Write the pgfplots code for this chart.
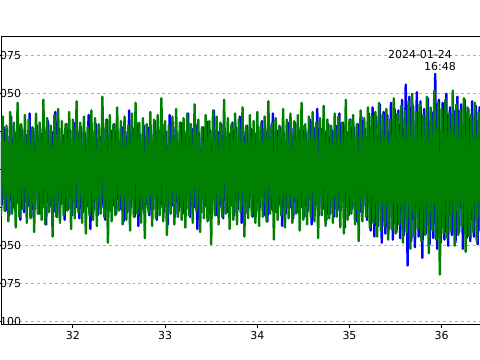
\documentclass[border=0pt]{standalone}
\usepackage{fontspec}
\setmainfont{DejaVu Sans}
\usepackage{pgfplots}
\pgfplotsset{compat=1.18}
\definecolor{mplblue}{RGB}{0,0,255}
\definecolor{mplgreen}{RGB}{0,128,0}
\definecolor{gridgray}{RGB}{176,176,176}
\begin{document}
\begin{tikzpicture}
\useasboundingbox (0,0) rectangle (480bp,360bp);
\clip (0,0) rectangle (480bp,360bp);
\begin{axis}[
  at={(1bp,36bp)}, anchor=south west,
  scale only axis, width=489bp, height=288bp,
  xmin=31.2202, xmax=36.524, ymin=-0.1015, ymax=0.08796,
  axis line style={black, line width=0.8bp},
  xtick={32,33,34,35,36},
  xticklabels={32,33,34,35,36},
  ytick={-0.1,-0.075,-0.05,-0.025,0,0.025,0.05,0.075},
  yticklabels={−0.100,−0.075,−0.050,,,,0.050,0.075},
  xtick pos=bottom, ytick pos=left,
  tick align=outside, major tick length=3.5bp,
  tick style={black, line width=0.8bp},
  ymajorgrids,
  major grid style={gridgray, dashed, line width=0.8bp},
  ticklabel style={font=\fontsize{11}{13}\selectfont},
  /pgf/number format/assume math mode=true,
  yticklabel style={anchor=east, xshift=27bp},
  clip=true,
]
\addplot[mplblue, line width=2.4bp, line join=round] table[header=false, row sep=\\, x expr=\coordindex*0.02+31.21, y index=0] {
0.025\\-0.023\\0.028\\-0.027\\0.022\\-0.030\\0.035\\-0.025\\0.024\\-0.022\\0.030\\-0.033\\0.026\\-0.028\\0.023\\-0.024\\0.037\\-0.031\\0.027\\-0.026\\
0.029\\-0.029\\0.024\\-0.025\\0.026\\-0.036\\0.032\\-0.024\\0.025\\-0.028\\0.038\\-0.031\\0.027\\-0.023\\0.023\\-0.033\\0.030\\-0.026\\0.026\\-0.030\\
0.031\\-0.025\\0.025\\-0.032\\0.028\\-0.028\\0.024\\-0.024\\0.036\\-0.039\\0.026\\-0.026\\0.030\\-0.030\\0.022\\-0.025\\0.027\\-0.033\\0.033\\-0.027\\
0.026\\-0.024\\0.030\\-0.029\\0.024\\-0.026\\0.028\\-0.034\\0.025\\-0.028\\0.039\\-0.025\\0.027\\-0.031\\0.031\\-0.037\\0.023\\-0.026\\0.029\\-0.023\\
0.028\\-0.030\\0.024\\-0.026\\0.032\\-0.033\\0.026\\-0.025\\0.030\\-0.028\\0.025\\-0.036\\0.036\\-0.024\\0.028\\-0.031\\0.024\\-0.027\\0.031\\-0.029\\
0.025\\-0.026\\0.037\\-0.031\\0.027\\-0.025\\0.030\\-0.039\\0.024\\-0.028\\0.028\\-0.024\\0.032\\-0.033\\0.026\\-0.027\\0.039\\-0.030\\0.025\\-0.025\\
0.030\\-0.032\\0.026\\-0.028\\0.024\\-0.024\\0.031\\-0.030\\0.028\\-0.026\\0.035\\-0.035\\0.025\\-0.029\\0.029\\-0.025\\0.027\\-0.031\\0.024\\-0.027\\
0.028\\-0.025\\0.032\\-0.030\\0.025\\-0.034\\0.030\\-0.026\\0.037\\-0.028\\0.026\\-0.024\\0.028\\-0.037\\0.024\\-0.029\\0.031\\-0.025\\0.027\\-0.032\\
0.031\\-0.028\\0.026\\-0.025\\0.029\\-0.031\\0.024\\-0.027\\0.033\\-0.036\\0.028\\-0.024\\0.040\\-0.030\\0.027\\-0.026\\0.025\\-0.033\\0.030\\-0.029\\
0.026\\-0.031\\0.029\\-0.027\\0.037\\-0.025\\0.031\\-0.038\\0.025\\-0.030\\0.033\\-0.026\\0.028\\-0.034\\0.030\\-0.028\\0.035\\-0.024\\0.027\\-0.033\\
0.037\\-0.040\\0.041\\-0.044\\0.035\\-0.037\\0.043\\-0.048\\0.038\\-0.042\\0.036\\-0.039\\0.044\\-0.046\\0.040\\-0.041\\0.039\\-0.045\\0.046\\-0.043\\
0.056\\-0.063\\0.048\\-0.047\\0.042\\-0.051\\0.051\\-0.044\\0.045\\-0.058\\0.040\\-0.042\\0.047\\-0.049\\0.038\\-0.045\\0.063\\-0.052\\0.046\\-0.048\\
0.044\\-0.046\\0.050\\-0.050\\0.041\\-0.043\\0.039\\-0.048\\0.048\\-0.041\\0.043\\-0.052\\0.046\\-0.045\\0.040\\-0.047\\0.045\\-0.044\\0.042\\-0.049\\
0.041\\-0.042\\0.044\\
};
\addplot[mplgreen, line width=2.4bp, line join=round] table[header=false, row sep=\\, x expr=\coordindex*0.02+31.2, y index=0] {
0.032\\-0.030\\0.035\\-0.027\\0.029\\-0.034\\0.038\\-0.029\\0.031\\-0.038\\0.044\\-0.031\\0.030\\-0.026\\0.036\\-0.035\\0.033\\-0.032\\0.028\\-0.041\\
0.037\\-0.029\\0.031\\-0.033\\0.046\\-0.036\\0.034\\-0.028\\0.029\\-0.044\\0.036\\-0.031\\0.040\\-0.035\\0.032\\-0.030\\0.030\\-0.027\\0.038\\-0.039\\
0.033\\-0.032\\0.045\\-0.028\\0.031\\-0.035\\0.035\\-0.042\\0.028\\-0.030\\0.039\\-0.033\\0.034\\-0.037\\0.030\\-0.029\\0.048\\-0.031\\0.033\\-0.048\\
0.036\\-0.034\\0.030\\-0.030\\0.041\\-0.027\\0.032\\-0.036\\0.035\\-0.033\\0.029\\-0.040\\0.037\\-0.031\\0.044\\-0.029\\0.031\\-0.035\\0.034\\-0.045\\
0.030\\-0.028\\0.038\\-0.037\\0.033\\-0.032\\0.036\\-0.030\\0.047\\-0.034\\0.032\\-0.043\\0.029\\-0.029\\0.035\\-0.036\\0.040\\-0.031\\0.031\\-0.033\\
0.034\\-0.038\\0.037\\-0.030\\0.030\\-0.035\\0.043\\-0.027\\0.033\\-0.041\\0.028\\-0.032\\0.036\\-0.034\\0.032\\-0.049\\0.039\\-0.030\\0.035\\-0.036\\
0.031\\-0.031\\0.046\\-0.029\\0.034\\-0.039\\0.030\\-0.033\\0.037\\-0.036\\0.033\\-0.028\\0.041\\-0.044\\0.029\\-0.032\\0.036\\-0.030\\0.032\\-0.035\\
0.038\\-0.037\\0.030\\-0.031\\0.035\\-0.034\\0.045\\-0.029\\0.031\\-0.046\\0.034\\-0.033\\0.029\\-0.030\\0.040\\-0.038\\0.033\\-0.032\\0.037\\-0.035\\
0.032\\-0.029\\0.036\\-0.040\\0.044\\-0.033\\0.030\\-0.036\\0.035\\-0.031\\0.038\\-0.034\\0.031\\-0.045\\0.034\\-0.030\\0.042\\-0.037\\0.033\\-0.032\\
0.029\\-0.035\\0.037\\-0.031\\0.035\\-0.038\\0.031\\-0.042\\0.046\\-0.033\\0.033\\-0.029\\0.036\\-0.036\\0.030\\-0.047\\0.039\\-0.034\\0.034\\-0.031\\
0.041\\-0.038\\0.035\\-0.035\\0.038\\-0.044\\0.044\\-0.040\\0.036\\-0.037\\0.040\\-0.046\\0.033\\-0.039\\0.047\\-0.042\\0.037\\-0.036\\0.042\\-0.048\\
0.039\\-0.041\\0.045\\-0.052\\0.050\\-0.044\\0.038\\-0.039\\0.043\\-0.047\\0.036\\-0.043\\0.048\\-0.055\\0.041\\-0.040\\0.052\\-0.046\\0.044\\-0.069\\
0.040\\-0.042\\0.046\\-0.045\\0.037\\-0.040\\0.052\\-0.050\\0.043\\-0.043\\0.039\\-0.038\\0.047\\-0.054\\0.041\\-0.044\\0.036\\-0.041\\0.044\\-0.047\\
0.038\\-0.040\\0.042\\
};
\node[anchor=north east, align=right, inner sep=0pt, font=\fontsize{11}{12}\selectfont] at (rel axis cs:0.9305,0.951) {2024-01-24\hspace*{4bp}\\16:48};
\end{axis}
\end{tikzpicture}
\end{document}
